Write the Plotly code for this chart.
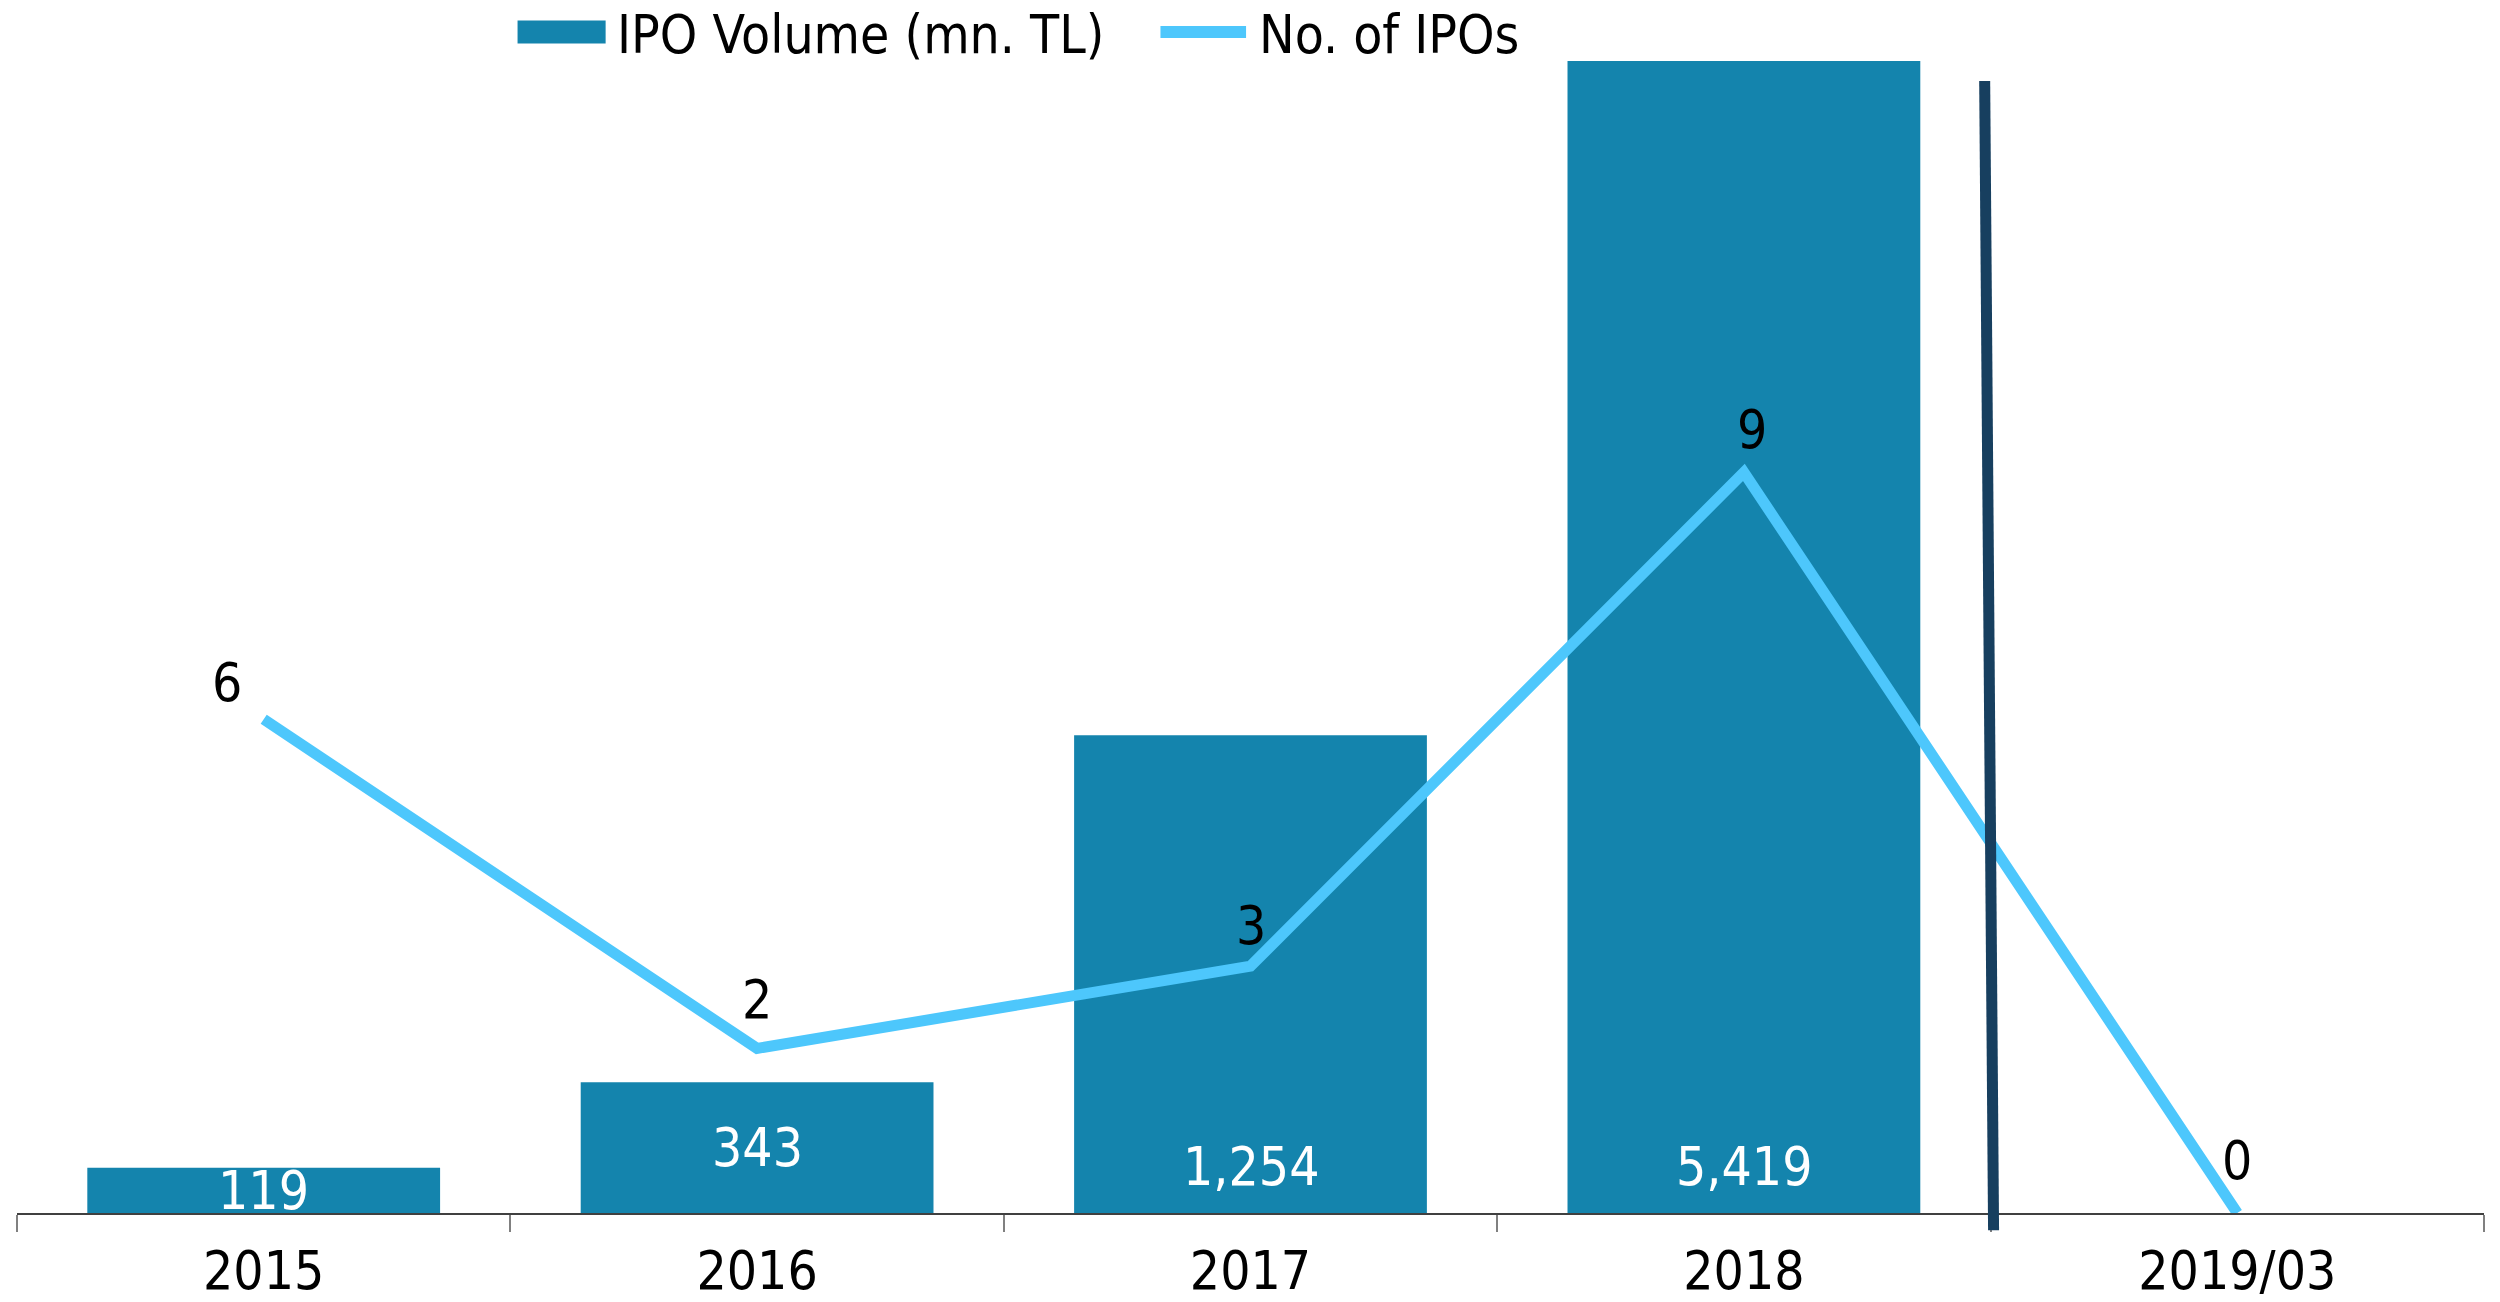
# ==========================================
# IPO volume and count chart
# ==========================================

import plotly.graph_objects as go

# ==========================================
# Data
# ==========================================

periods = ["2015", "2016", "2017", "2018", "2019/03"]

ipo_volume = [119, 343, 1254, 5419, None]

volume_labels = ["119", "343", "1,254", "5,419", ""]

ipo_count = [6, 2, 3, 9, 0]

# ==========================================
# Theme
# ==========================================

BAR = "#1484AD"
LINE = "#4DC7FC"
DIVIDER = "#173F5F"
TEXT = "#000000"
FONT = "DejaVu Sans Condensed, DejaVu Sans, Verdana, sans-serif"
SIZE = 53

fig = go.Figure()

fig.add_trace(

    go.Bar(

        x=periods,

        y=ipo_volume,

        name="IPO Volume (mn. TL)",

        marker=dict(color=BAR, line=dict(width=0)),

        showlegend=False

    )

)

fig.add_trace(

    go.Scatter(

        x=periods,

        y=ipo_count,

        name="No. of IPOs",

        mode="lines",

        yaxis="y2",

        line=dict(color=LINE, width=11),

        showlegend=False

    )

)

# ==========================================
# Labels
# ==========================================

annotations = []

# bar labels: centred in short bars, inside base in tall ones
# (category index used for x: "2015" would be read as a number)
label_at_base = [False, False, True, True, True]

for i, (value, label) in enumerate(zip(ipo_volume, volume_labels)):

    if value is None:
        continue

    annotations.append(dict(
        x=i,
        y=121 if label_at_base[i] else value / 2,
        xref="x",
        yref="y",
        text=label,
        showarrow=False,
        yanchor="middle",
        font=dict(size=SIZE, color="#FFFFFF", family=FONT)
    ))

# line labels, above the points
count_shift = [(-37, 37), (0, 49), (0, 41), (8, 43), (0, 53)]

for i, (value, (dx, dy)) in enumerate(zip(ipo_count, count_shift)):

    annotations.append(dict(
        x=i,
        y=value,
        xref="x",
        yref="y2",
        text=str(value),
        showarrow=False,
        xshift=dx,
        yshift=dy,
        yanchor="middle",
        font=dict(size=SIZE, color=TEXT, family=FONT)
    ))

# legend text
annotations += [

    dict(
        x=0.2430, y=1.0232, xref="paper", yref="paper",
        text="IPO Volume (mn. TL)", showarrow=False,
        xanchor="left", yanchor="middle", borderpad=0,
        font=dict(size=SIZE, color=TEXT, family=FONT)
    ),

    dict(
        x=0.5030, y=1.0232, xref="paper", yref="paper",
        text="No. of IPOs", showarrow=False,
        xanchor="left", yanchor="middle", borderpad=0,
        font=dict(size=SIZE, color=TEXT, family=FONT)
    )

]

# ==========================================
# Shapes: legend swatches and divider
# ==========================================

shapes = [

    dict(
        type="rect", xref="paper", yref="paper",
        x0=0.2029, x1=0.2386, y0=1.0152, y1=1.0352,
        fillcolor=BAR, line=dict(width=0)
    ),

    dict(
        type="line", xref="paper", yref="paper",
        x0=0.4635, x1=0.4982, y0=1.0252, y1=1.0252,
        line=dict(color=LINE, width=12)
    ),

    dict(
        type="line", xref="x", yref="paper",
        x0=3.488, x1=3.506, y0=0.9826, y1=-0.0150,
        line=dict(color=DIVIDER, width=11)
    )

]

# ==========================================
# Layout
# ==========================================

fig.update_layout(

    width=2500,
    height=1302,

    paper_bgcolor="#FFFFFF",
    plot_bgcolor="#FFFFFF",

    font=dict(family=FONT, size=SIZE, color=TEXT),

    # page body adds 8px, so margins are trimmed by that much
    margin=dict(l=9, r=24, t=53, b=97, autoexpand=False),

    bargap=0.285,

    showlegend=False,

    xaxis=dict(
        type="category",
        range=[-0.5, 4.5],
        showgrid=False,
        zeroline=False,
        showline=True,
        linecolor="#404040",
        linewidth=2,
        ticks="outside",
        tickson="boundaries",
        ticklen=17,
        tickwidth=2,
        tickcolor="#808080",
        ticklabelstandoff=10,
        tickfont=dict(size=SIZE, color=TEXT, family=FONT)
    ),

    yaxis=dict(
        range=[0, 3024],
        visible=False,
        showgrid=False,
        zeroline=False
    ),

    yaxis2=dict(
        range=[0, 14],
        overlaying="y",
        side="right",
        visible=False,
        showgrid=False,
        zeroline=False
    ),

    annotations=annotations,

    shapes=shapes

)

fig.write_html("out.html")
